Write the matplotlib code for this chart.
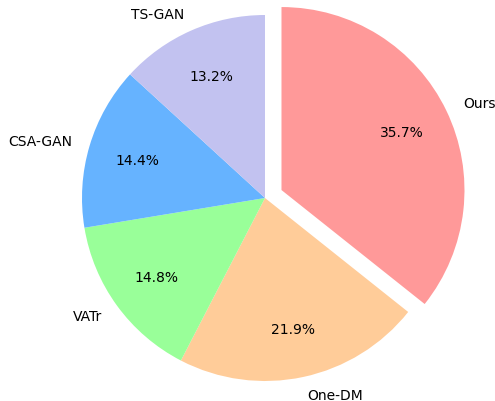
import matplotlib
matplotlib.use("Agg")
import matplotlib.pyplot as plt

labels = ['Ours', 'One-DM', 'VATr', 'CSA-GAN', 'TS-GAN']
sizes = [35.7, 21.9, 14.8, 14.4, 13.2]
colors = ['#ff9999', '#ffcc99', '#99ff99', '#66b3ff', '#c2c2f0']
explode = [0.1, 0, 0, 0, 0]

fig = plt.figure(figsize=(4.95, 4.02), dpi=100)
ax = fig.add_axes([0, 0, 1, 1])
ax.pie(sizes, labels=labels, colors=colors, explode=explode,
       autopct='%1.1f%%', pctdistance=0.73, startangle=90, counterclock=False,
       textprops={'fontsize': 10})
ax.axis('equal')
# center ~ (265, 199) px, radius ~183 px
r = 183.0
ax.set_xlim(-265 / r, (495 - 265) / r)
ax.set_ylim(-(402 - 199) / r, 199 / r)
fig.savefig('out.png', dpi=100)
